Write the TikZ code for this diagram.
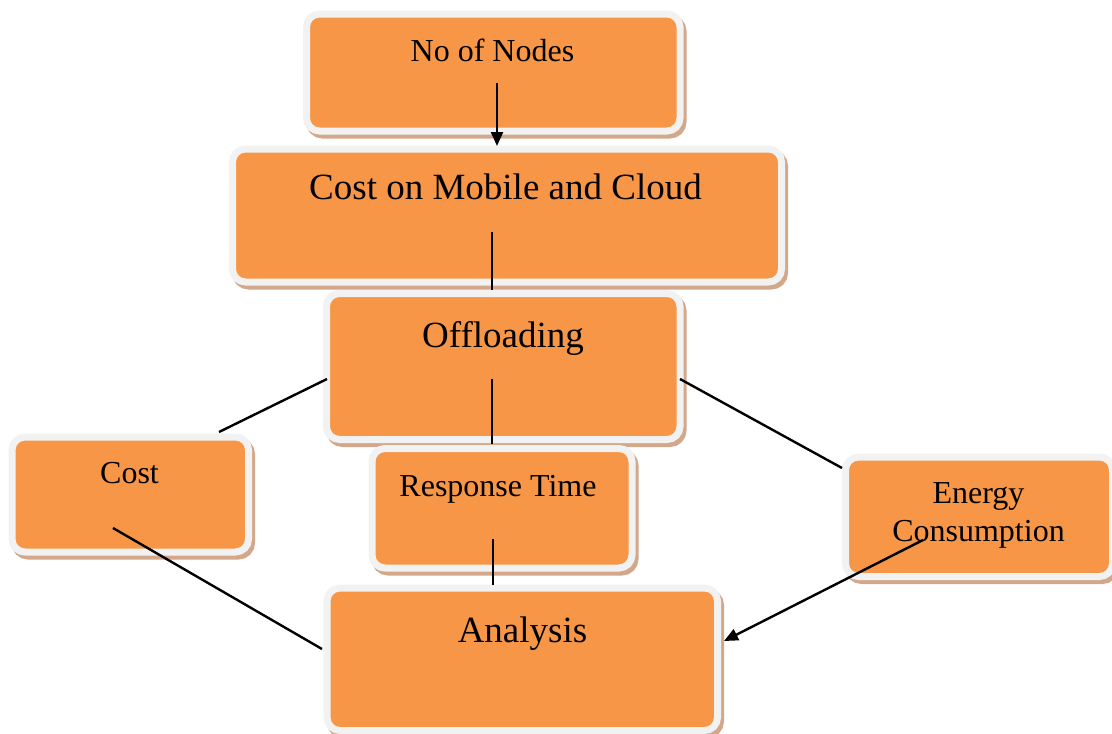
\documentclass[tikz,border=0pt]{standalone}
\usepackage{fontspec}
\setmainfont{Liberation Serif}
\usetikzlibrary{arrows.meta}
\definecolor{orfill}{HTML}{F79646}
\definecolor{bordergray}{HTML}{F2F2F2}
\definecolor{shadowtan}{HTML}{D3A88A}
\begin{document}
\begin{tikzpicture}[x=1pt,y=-1pt,
  box/.style={rectangle, rounded corners=13pt, fill=orfill, draw=bordergray,
    line width=7pt, inner sep=0pt, outer sep=0pt,
    preaction={draw=shadowtan, fill=shadowtan, transform canvas={shift={(3pt,-4pt)}}}},
  lblsmall/.style={inner sep=0pt, anchor=base, font=\fontsize{32}{38}\selectfont},
  lblbig/.style={inner sep=0pt, anchor=base, font=\fontsize{37}{44}\selectfont},
  conn/.style={draw=black, line width=2.4pt},
  arr/.style={conn, -{Triangle[length=14pt,width=12pt]}}]
\useasboundingbox (0,0) rectangle (1112,734);

% boxes
\node[box, minimum width=373.5pt, minimum height=117pt] (nodes) at (493.25,72.5) {};
\node[box, minimum width=549pt, minimum height=133pt] (cmc) at (507,215.5) {};
\node[box, minimum width=353.5pt, minimum height=146pt] (offl) at (503.25,366.5) {};
\node[box, minimum width=236.5pt, minimum height=115pt] (cost) at (130.25,494.5) {};
\node[box, minimum width=260pt, minimum height=119.5pt] (resp) at (502,508.25) {};
\node[box, minimum width=267pt, minimum height=119.5pt] (energy) at (979,516.75) {};
\node[box, minimum width=390.5pt, minimum height=142.5pt] (anal) at (522.25,659.25) {};

% labels
\node[lblsmall] (tnodes) at (492.5,61) {No of Nodes};
\node[lblbig] (tcmc) at (505.5,199) {Cost on Mobile and Cloud};
\node[lblbig] (toffl) at (503,347) {Offloading};
\node[lblsmall] (tcost) at (129.5,483) {Cost};
\node[lblsmall] (tresp) at (498,496) {Response Time};
\node[inner sep=0pt, align=center, font=\fontsize{32}{38}\selectfont] (tenergy) at (978.5,515) {Energy\\Consumption};
\node[lblbig] (tanal) at (522.5,642) {Analysis};

% connector end points
\coordinate (p1a) at (497,83);  \coordinate (p1b) at (497,146);
\coordinate (p2a) at (492,232); \coordinate (p2b) at (492,290);
\coordinate (p3a) at (492,379); \coordinate (p3b) at (492,444);
\coordinate (p4a) at (493,539); \coordinate (p4b) at (493,585);
\coordinate (p5a) at (327,379); \coordinate (p5b) at (219,432);
\coordinate (p6a) at (680,379); \coordinate (p6b) at (842,468);
\coordinate (p7a) at (113,528); \coordinate (p7b) at (322,649);
\coordinate (p8a) at (923,540); \coordinate (p8b) at (724,641);

\draw[arr] (p1a) -- (p1b);
\draw[conn] (p2a) -- (p2b);
\draw[conn] (p3a) -- (p3b);
\draw[conn] (p4a) -- (p4b);
\draw[conn] (p5a) -- (p5b);
\draw[conn] (p6a) -- (p6b);
\draw[conn] (p7a) -- (p7b);
\draw[arr] (p8a) -- (p8b);
\end{tikzpicture}
\end{document}
